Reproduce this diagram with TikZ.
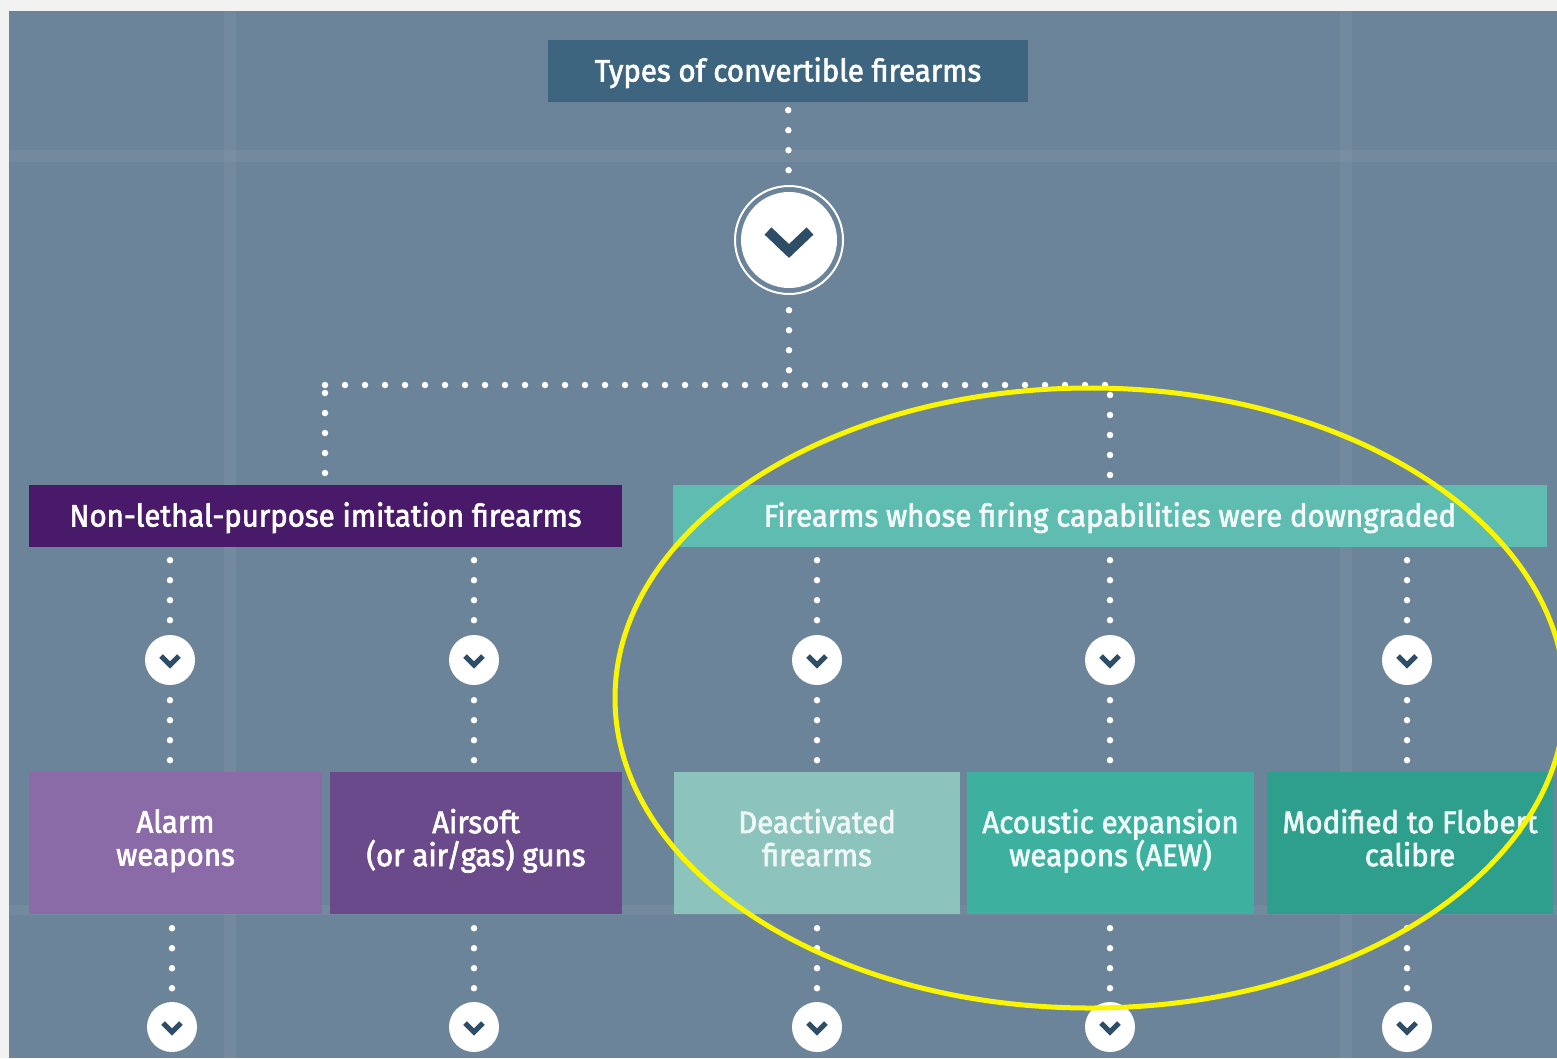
\documentclass[tikz,border=0pt]{standalone}
\usepackage{fontspec}
\setmainfont{Fira Sans}[FakeStretch=0.95, FakeBold=2.2]
\definecolor{pagebg}{HTML}{F2F2F2}
\definecolor{panel}{HTML}{6C849A}
\definecolor{topc}{HTML}{3D6580}
\definecolor{nlc}{HTML}{4A1A6A}
\definecolor{dgc}{HTML}{5FBCB0}
\definecolor{alarmc}{HTML}{8B6BA7}
\definecolor{airc}{HTML}{6B4A8B}
\definecolor{deac}{HTML}{8CC4BD}
\definecolor{aewc}{HTML}{3DB0A0}
\definecolor{flobc}{HTML}{2E9F8C}
\definecolor{chevc}{HTML}{2E4D66}
\definecolor{hilite}{RGB}{250,245,0}
\begin{document}
\begin{tikzpicture}[x=1pt,y=-1pt,
  box/.style={draw=none, inner sep=0pt, text=white, align=center,
    font=\fontsize{31}{33}\selectfont,
    execute at begin node=\rule{0pt}{32pt}, execute at end node=\rule[-11pt]{0pt}{11pt}},
  smallc/.style={circle, fill=white, minimum size=50, inner sep=0pt},
  dots/.style={white, line width=6.5, line cap=round, dash pattern=on 0pt off 20pt},
  chev/.style={chevc, line cap=butt, line join=miter},
  stripe/.style={white, opacity=0.045}
]
\useasboundingbox (0,0) rectangle (1557,1058);
\fill[pagebg] (0,0) rectangle (1557,1058);
\fill[panel] (9,11) rectangle (1557,1058);
% faint background texture
\fill[stripe] (224,11) rectangle (236,1058);
\fill[stripe] (1340,11) rectangle (1352,1058);
\fill[stripe] (9,150) rectangle (1557,162);
\fill[stripe] (9,905) rectangle (1557,915);

% top box and big circle
\node[box, fill=topc, minimum width=480, minimum height=62] (top) at (788,71) {Types of convertible firearms};
\node[circle, fill=white, minimum size=96, inner sep=0pt] (bigc) at (789,240) {};
\draw[white, line width=2] (bigc.center) circle[radius=54];
\draw[chev, line width=10] ([shift={(-21,-9)}]bigc.center) -- ([shift={(0,11)}]bigc.center) -- ([shift={(21,-9)}]bigc.center);

% second level
\node[box, fill=nlc, minimum width=593, minimum height=62] (left) at (325.5,516) {Non-lethal-purpose imitation firearms};
\node[box, fill=dgc, minimum width=874, minimum height=62, text=white!92!dgc] (right) at (1110,516) {Firearms whose firing capabilities were downgraded};

\coordinate (jc) at (789,385);
\coordinate (jl) at (325,385);
\coordinate (jr) at (1110,385);

% third level boxes
\node[box, fill=alarmc, minimum width=293, minimum height=142] (alarm) at (175.5,843) {Alarm\\weapons};
\node[box, fill=airc, minimum width=292, minimum height=142] (airsoft) at (476,843) {Airsoft\\(or air/gas) guns};
\node[box, fill=deac, minimum width=286, minimum height=142, text=white!86!deac] (deact) at (817,843) {Deactivated\\firearms};
\node[box, fill=aewc, minimum width=287, minimum height=142, text=white!92!aewc] (aew) at (1110.5,843) {Acoustic expansion\\weapons (AEW)};
\node[box, fill=flobc, minimum width=286, minimum height=142, text=white!92!flobc] (flob) at (1410,843) {Modified to Flobert\\calibre};

% small circles, first row
\foreach \n/\x in {c1/170, c2/474, c3/817, c4/1110, c5/1407}{
  \node[smallc] (\n) at (\x,660) {};
}
% small circles, second row
\foreach \n/\x in {d1/172, d2/474, d3/817, d4/1110, d5/1407}{
  \node[smallc] (\n) at (\x,1027) {};
}
\foreach \n in {c1,c2,c3,c4,c5,d1,d2,d3,d4,d5}{
  \draw[chev, line width=5] ([shift={(-9,-4)}]\n.center) -- ([shift={(0,5)}]\n.center) -- ([shift={(9,-4)}]\n.center);
}

% connectors
\draw[dots, shorten <=8, shorten >=14] (top) -- (bigc);
\draw[dots, shorten <=22, shorten >=10] (bigc) -- (jc);
\draw[dots] (jl) -- (jr);
\draw[dots, shorten <=8, shorten >=8] (jl) -- (jl |- left.north);
\draw[dots, shorten <=10, shorten >=8] (jr) -- (jr |- right.north);

\foreach \c in {c1,c2}{
  \draw[dots, shorten <=13, shorten >=10] (\c |- left.south) -- (\c);
}
\foreach \c in {c3,c4,c5}{
  \draw[dots, shorten <=13, shorten >=10] (\c |- right.south) -- (\c);
}
\foreach \c/\b in {c1/alarm, c2/airsoft, c3/deact, c4/aew, c5/flob}{
  \draw[dots, shorten <=15, shorten >=8] (\c) -- (\c |- \b.north);
}
\foreach \d/\b in {d1/alarm, d2/airsoft, d3/deact, d4/aew, d5/flob}{
  \draw[dots, shorten <=14, shorten >=10] (\d |- \b.south) -- (\d);
}

% highlight ellipse
\draw[hilite, line width=5] (1090,698) ellipse[x radius=475, y radius=310];
\end{tikzpicture}
\end{document}
